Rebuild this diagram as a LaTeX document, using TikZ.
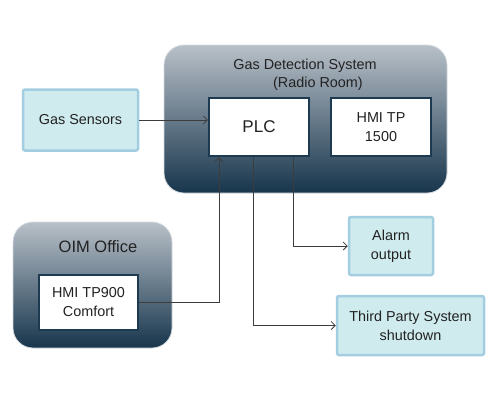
\documentclass[tikz,border=0pt]{standalone}
\usepackage{fontspec}
\setmainfont{Liberation Sans}
\usetikzlibrary{positioning, arrows.meta, shapes}

\definecolor{roomTop}{HTML}{B8C0C8}
\definecolor{roomMid}{HTML}{8898A4}
\definecolor{roomBottom}{HTML}{17354C}
\definecolor{unitEdge}{HTML}{1D3A50}
\definecolor{ioFill}{HTML}{CFEBEE}
\definecolor{ioEdge}{HTML}{A3CDE0}
\definecolor{wireGray}{HTML}{3C3C3C}
\definecolor{textDark}{HTML}{222222}

\tikzset{
    room/.style={rounded corners=20pt, top color=roomTop, middle color=roomMid,
        bottom color=roomBottom, draw=roomTop!60!white, line width=0.8pt, inner sep=0pt},
    unit/.style={draw=unitEdge, fill=white, line width=2.2pt, inner sep=0pt,
        align=center, text=textDark, font=\fontsize{14.4}{19}\selectfont},
    iobox/.style={draw=ioEdge, fill=ioFill, line width=2.5pt, rounded corners=2pt,
        inner sep=0pt, align=center, text=textDark, font=\fontsize{14.4}{19}\selectfont},
    roomlabel/.style={text=textDark, inner sep=0pt, font=\fontsize{14.4}{17}\selectfont},
    wire/.style={draw=wireGray, line width=0.8pt},
    feed/.style={wire, -{Straight Barb[length=4pt,width=8pt]}},
}

\begin{document}
\begin{tikzpicture}[x=1pt, y=-1pt]
\useasboundingbox (0,0) rectangle (500,400);

% rooms
\node[room, minimum width=283pt, minimum height=148pt] (gds) at (305.5,119) {};
\node[room, minimum width=159pt, minimum height=126pt] (oim) at (92.5,285) {};

\node[roomlabel] (gdsTitle) at (305,66) {Gas Detection System};
\node[roomlabel] (gdsRoom) at (318,84) {(Radio Room)};
\node[roomlabel, font=\fontsize{16.5}{19}\selectfont] (oimTitle) at (98,247) {OIM Office};

% units
\node[unit, minimum width=100pt, minimum height=58pt, font=\fontsize{17}{20}\selectfont] (plc) at (259,127) {PLC};
\node[unit, minimum width=100pt, minimum height=58pt] (hmiBig) at (381,127) {HMI TP\\1500};
\node[unit, minimum width=99pt, minimum height=55pt] (hmiSmall) at (88.5,302.5) {HMI TP900\\Comfort};

% inputs and outputs
\node[iobox, minimum width=115pt, minimum height=61pt] (sensors) at (80.5,120) {Gas Sensors};
\node[iobox, minimum width=84pt, minimum height=58pt] (alarm) at (391,246) {Alarm\\output};
\node[iobox, minimum width=147pt, minimum height=59pt] (shutdown) at (410.5,325.5) {Third Party System\\shutdown};

% wiring
\draw[feed] (sensors.east) -- (sensors.east -| plc.west);
\draw[feed] (hmiSmall.east) -| ([xshift=11pt]plc.south west);
\draw[feed] ([xshift=-17pt]plc.south east) |- (alarm.west);
\draw[feed] ([xshift=-6pt]plc.south) |- (shutdown.west);

\end{tikzpicture}
\end{document}
